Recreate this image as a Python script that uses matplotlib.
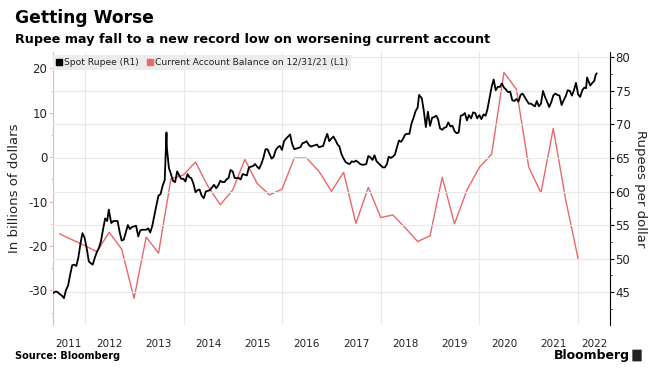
import matplotlib
matplotlib.use('Agg')
import matplotlib.pyplot as plt
import matplotlib.dates as mdates
import matplotlib.patches as mpatches
from matplotlib.lines import Line2D
from matplotlib.ticker import MultipleLocator, FixedLocator
import pandas as pd

plt.rcParams['font.family'] = ['DejaVu Sans']
plt.rcParams['axes.unicode_minus'] = False

# ---------------- data ----------------
title = "Getting Worse"
subtitle = "Rupee may fall to a new record low on worsening current account"
legend_labels = ["Spot Rupee (R1)", "Current Account Balance on 12/31/21 (L1)"]
year_labels = [str(y) for y in range(2011, 2023)]

# Quarterly current account balance (billions of USD), quarter ends 2011-06-30 .. 2021-12-31
ca_dates = pd.date_range("2011-06-30", "2021-12-31", freq="QE")
ca_values = [-17.3, -18.6, -19.9,
             -21.3, -16.9, -20.7, -31.8,
             -18.0, -21.6, -4.9, -4.0,
             -1.1, -6.5, -10.7, -7.4,
             -0.5, -5.9, -8.5, -7.2,
             -0.2, -0.2, -3.2, -7.7,
             -3.4, -14.9, -6.8, -13.6,
             -13.0, -15.9, -19.0, -17.7,
             -4.5, -15.0, -7.4, -2.3,
             0.7, 19.1, 15.3, -2.3,
             -8.0, 6.5, -9.6, -22.9]

# Spot rupee (INR per USD)
rupee_dates = [
    "2011-05-15", "2011-05-31", "2011-06-15", "2011-06-30", "2011-07-15", "2011-07-31",
    "2011-08-15", "2011-08-31", "2011-09-15", "2011-09-30", "2011-10-15", "2011-10-31",
    "2011-11-15", "2011-11-30", "2011-12-15", "2011-12-31",
    "2012-01-15", "2012-01-31", "2012-02-15", "2012-02-29", "2012-03-15", "2012-03-31",
    "2012-04-15", "2012-04-30", "2012-05-15", "2012-05-31", "2012-06-15", "2012-06-27",
    "2012-07-15", "2012-07-31", "2012-08-15", "2012-08-31", "2012-09-15", "2012-09-30",
    "2012-10-15", "2012-10-31", "2012-11-15", "2012-11-30", "2012-12-15", "2012-12-31",
    "2013-01-15", "2013-01-31", "2013-02-15", "2013-02-28", "2013-03-15", "2013-03-31",
    "2013-04-15", "2013-04-30", "2013-05-15", "2013-05-31", "2013-06-15", "2013-06-30",
    "2013-07-15", "2013-07-31", "2013-08-15", "2013-08-28", "2013-08-31", "2013-09-15",
    "2013-09-30", "2013-10-15", "2013-10-31", "2013-11-15", "2013-11-30", "2013-12-15",
    "2013-12-31",
    "2014-01-15", "2014-01-31", "2014-02-15", "2014-02-28", "2014-03-15", "2014-03-31",
    "2014-04-15", "2014-04-30", "2014-05-15", "2014-05-31", "2014-06-15", "2014-06-30",
    "2014-07-15", "2014-07-31", "2014-08-15", "2014-08-31", "2014-09-15", "2014-09-30",
    "2014-10-15", "2014-10-31", "2014-11-15", "2014-11-30", "2014-12-15", "2014-12-31",
    "2015-01-15", "2015-01-31", "2015-02-15", "2015-02-28", "2015-03-15", "2015-03-31",
    "2015-04-15", "2015-04-30", "2015-05-15", "2015-05-31", "2015-06-15", "2015-06-30",
    "2015-07-15", "2015-07-31", "2015-08-15", "2015-08-31", "2015-09-15", "2015-09-30",
    "2015-10-15", "2015-10-31", "2015-11-15", "2015-11-30", "2015-12-15", "2015-12-31",
    "2016-01-15", "2016-01-31", "2016-02-15", "2016-02-29", "2016-03-15", "2016-03-31",
    "2016-04-15", "2016-04-30", "2016-05-15", "2016-05-31", "2016-06-15", "2016-06-30",
    "2016-07-15", "2016-07-31", "2016-08-15", "2016-08-31", "2016-09-15", "2016-09-30",
    "2016-10-15", "2016-10-31", "2016-11-15", "2016-11-30", "2016-12-15", "2016-12-31",
    "2017-01-15", "2017-01-31", "2017-02-15", "2017-02-28", "2017-03-15", "2017-03-31",
    "2017-04-15", "2017-04-30", "2017-05-15", "2017-05-31", "2017-06-15", "2017-06-30",
    "2017-07-15", "2017-07-31", "2017-08-15", "2017-08-31", "2017-09-15", "2017-09-30",
    "2017-10-15", "2017-10-31", "2017-11-15", "2017-11-30", "2017-12-15", "2017-12-31",
    "2018-01-15", "2018-01-31", "2018-02-15", "2018-02-28", "2018-03-15", "2018-03-31",
    "2018-04-15", "2018-04-30", "2018-05-15", "2018-05-31", "2018-06-15", "2018-06-30",
    "2018-07-15", "2018-07-31", "2018-08-15", "2018-08-31", "2018-09-15", "2018-09-30",
    "2018-10-11", "2018-10-31", "2018-11-15", "2018-11-30", "2018-12-15", "2018-12-31",
    "2019-01-15", "2019-01-31", "2019-02-15", "2019-02-28", "2019-03-15", "2019-03-31",
    "2019-04-15", "2019-04-30", "2019-05-15", "2019-05-31", "2019-06-15", "2019-06-30",
    "2019-07-15", "2019-07-31", "2019-08-15", "2019-08-31", "2019-09-15", "2019-09-30",
    "2019-10-15", "2019-10-31", "2019-11-15", "2019-11-30", "2019-12-15", "2019-12-31",
    "2020-01-15", "2020-01-31", "2020-02-15", "2020-02-28", "2020-03-15", "2020-03-31",
    "2020-04-15", "2020-04-30", "2020-05-15", "2020-05-31", "2020-06-15", "2020-06-30",
    "2020-07-15", "2020-07-31", "2020-08-15", "2020-08-31", "2020-09-15", "2020-09-30",
    "2020-10-15", "2020-10-31", "2020-11-15", "2020-11-30", "2020-12-15", "2020-12-31",
    "2021-01-15", "2021-01-31", "2021-02-15", "2021-02-28", "2021-03-15", "2021-03-31",
    "2021-04-15", "2021-04-30", "2021-05-15", "2021-05-31", "2021-06-15", "2021-06-30",
    "2021-07-15", "2021-07-31", "2021-08-15", "2021-08-31", "2021-09-15", "2021-09-30",
    "2021-10-15", "2021-10-31", "2021-11-15", "2021-11-30", "2021-12-15", "2021-12-31",
    "2022-01-15", "2022-01-31", "2022-02-15", "2022-02-28", "2022-03-07", "2022-03-31",
    "2022-04-15", "2022-04-30", "2022-05-10", "2022-05-17",
]
rupee_values = [
    44.9, 45.1, 45.0, 44.7, 44.5, 44.1,
    45.3, 46.0, 47.6, 49.0, 49.1, 48.9,
    50.2, 52.2, 53.8, 53.1,
    51.6, 49.6, 49.3, 49.1, 50.1, 51.0,
    51.6, 52.6, 54.3, 56.0, 55.6, 57.3,
    55.3, 55.6, 55.6, 55.6, 54.0, 52.7,
    52.8, 53.9, 55.0, 54.4, 54.7, 54.8,
    54.9, 53.3, 54.2, 54.3, 54.3, 54.3,
    54.5, 53.9, 54.9, 56.5, 58.0, 59.4,
    59.6, 60.9, 61.7, 68.8, 66.5, 63.5,
    62.6, 61.6, 61.4, 63.0, 62.4, 61.9,
    61.9,
    61.5, 62.6, 62.1, 62.0, 61.2, 59.9,
    60.2, 60.3, 59.4, 59.0, 60.0, 60.1,
    60.2, 60.6, 61.0, 60.5, 60.9, 61.6,
    61.4, 61.4, 61.8, 62.0, 63.2, 63.0,
    62.0, 62.0, 62.0, 61.8, 62.6, 62.5,
    62.4, 63.6, 63.7, 63.8, 64.1, 63.7,
    63.4, 64.1, 65.0, 66.3, 66.3, 65.6,
    64.9, 65.2, 66.2, 66.6, 66.8, 66.2,
    67.5, 67.9, 68.2, 68.5, 67.1, 66.3,
    66.4, 66.5, 66.6, 67.2, 67.3, 67.5,
    67.0, 66.7, 66.8, 66.9, 67.0, 66.6,
    66.7, 66.8, 67.8, 68.6, 67.5, 67.9,
    68.2, 67.6, 67.0, 66.7, 65.6, 64.9,
    64.4, 64.2, 64.1, 64.5, 64.4, 64.6,
    64.4, 64.1, 64.0, 64.0, 64.1, 65.3,
    65.1, 64.7, 65.4, 64.5, 64.2, 63.9,
    63.6, 63.6, 64.1, 65.2, 65.0, 65.2,
    65.5, 66.6, 67.6, 67.4, 67.9, 68.5,
    68.6, 68.6, 70.1, 71.0, 72.0, 72.5,
    74.4, 73.9, 72.0, 69.6, 71.9, 69.8,
    71.0, 71.1, 71.3, 70.8, 69.4, 69.2,
    69.5, 69.6, 70.3, 69.7, 69.8, 69.0,
    68.7, 68.8, 71.3, 71.4, 71.7, 70.6,
    71.4, 70.9, 71.8, 71.7, 70.9, 71.4,
    70.8, 71.5, 71.3, 72.2, 73.9, 75.6,
    76.7, 75.1, 75.6, 75.6, 76.1, 75.5,
    75.2, 74.8, 74.9, 73.6, 73.5, 73.8,
    73.4, 74.4, 74.6, 74.1, 73.6, 73.1,
    73.1, 72.9, 72.7, 73.5, 72.7, 73.1,
    75.0, 74.1, 73.4, 72.6, 73.3, 74.3,
    74.6, 74.4, 74.3, 72.9, 73.6, 74.2,
    75.1, 75.0, 74.3, 75.1, 76.2, 74.5,
    74.1, 75.1, 75.5, 75.4, 77.0, 75.8,
    76.2, 76.5, 77.4, 77.6,
]

# ---------------- style ----------------
RED = "#e8686b"
PINK = "#f0b4b4"
GRID = "#e8e8e8"
TXT = "#222222"

W, H = 653, 371
fig = plt.figure(figsize=(W / 100, H / 100), dpi=100)
ax = fig.add_axes([53 / W, 46 / H, 557 / W, 273 / H])
ax2 = ax.twinx()

ca_x = pd.to_datetime(ca_dates)
ru_x = pd.to_datetime(rupee_dates)

ax.plot(ca_x, ca_values, color=RED, lw=1.0, zorder=3)
ax2.plot(ru_x, rupee_values, color="black", lw=1.3, zorder=3)

xmin = pd.Timestamp("2011-05-11")
xmax = pd.Timestamp("2022-08-24")
ax.set_xlim(xmin, xmax)
ax.set_ylim(-37.8, 23.7)
ax2.set_ylim(40.1, 80.8)

# x gridlines at Jan 1 of even years, labels centred in each visible year
grid_years = [pd.Timestamp(f"{y}-01-01") for y in range(2012, 2023, 2)]
ax.xaxis.set_major_locator(FixedLocator(mdates.date2num(grid_years)))
ax.xaxis.set_major_formatter(plt.NullFormatter())
centers = []
for lab in year_labels:
    y = int(lab)
    a = max(pd.Timestamp(f"{y}-01-01"), xmin)
    b = min(pd.Timestamp(f"{y + 1}-01-01"), xmax)
    centers.append(mdates.date2num(a) + (mdates.date2num(b) - mdates.date2num(a)) / 2)
ax.xaxis.set_minor_locator(FixedLocator(centers))
ax.xaxis.set_minor_formatter(plt.FixedFormatter(year_labels))
ax.tick_params(axis="x", which="both", length=0, labelsize=7.5, colors=TXT, pad=10)
ax.grid(axis="x", which="major", color=GRID, lw=0.8)

# left axis
ax.yaxis.set_major_locator(MultipleLocator(10))
ax.yaxis.set_minor_locator(MultipleLocator(5))
ax.tick_params(axis="y", which="major", length=3, color=PINK, labelsize=8.5, labelcolor=TXT, pad=1)
ax.tick_params(axis="y", which="minor", length=1.5, color=PINK)
ax.set_ylabel("In billions of dollars", fontsize=9.5, color=TXT, labelpad=5)

# right axis
ax2.yaxis.set_major_locator(MultipleLocator(5))
ax2.yaxis.set_minor_locator(MultipleLocator(2.5))
ax2.tick_params(axis="y", which="major", length=3, color="black", labelsize=8.5, labelcolor=TXT, pad=1)
ax2.tick_params(axis="y", which="minor", length=1.5, color="black")
ax2.grid(axis="y", which="major", color=GRID, lw=0.8, zorder=0)
ax2.set_ylabel("Rupees per dollar", fontsize=9.5, color=TXT, rotation=270, labelpad=12)

for s in ["top", "bottom", "right"]:
    ax.spines[s].set_visible(False)
ax.spines["left"].set_color(PINK)
ax.spines["left"].set_linewidth(0.8)
for s in ["top", "bottom", "left"]:
    ax2.spines[s].set_visible(False)
ax2.spines["right"].set_color("black")
ax2.spines["right"].set_linewidth(0.8)

# legend
handles = [Line2D([], [], marker="s", ls="none", color="black", markersize=5),
           Line2D([], [], marker="s", ls="none", color=RED, markersize=5)]
leg = ax2.legend(handles, legend_labels, loc="upper left", bbox_to_anchor=(0.0, 0.99),
                 ncol=2, fontsize=6.6, frameon=True, fancybox=False, framealpha=1,
                 facecolor="#ececec", edgecolor="none", handlelength=0.7,
                 handletextpad=0.2, columnspacing=0.8, borderpad=0.35,
                 borderaxespad=0.0)
for t in leg.get_texts():
    t.set_color(TXT)

# titles and footer
fig.text(15 / W, 1 - 18 / H, title, fontsize=12.3, fontweight="bold", va="center", ha="left", color="black")
fig.text(15 / W, 1 - 39 / H, subtitle, fontsize=9.2, fontweight="bold", va="center", ha="left", color="black")
fig.text(15 / W, 1 - 356 / H, "Source: Bloomberg", fontsize=7, fontweight="bold", va="center", ha="left", color="black")
fig.text(630 / W, 1 - 355 / H, "Bloomberg", fontsize=9, fontweight="bold", va="center", ha="right", color="black")
fig.patches.append(mpatches.FancyBboxPatch((633 / W, 1 - 361 / H), 8 / W, 11 / H,
                                           boxstyle="round,pad=0.001", transform=fig.transFigure,
                                           facecolor="#222222", edgecolor="none"))

fig.savefig("out.png", dpi=100)
